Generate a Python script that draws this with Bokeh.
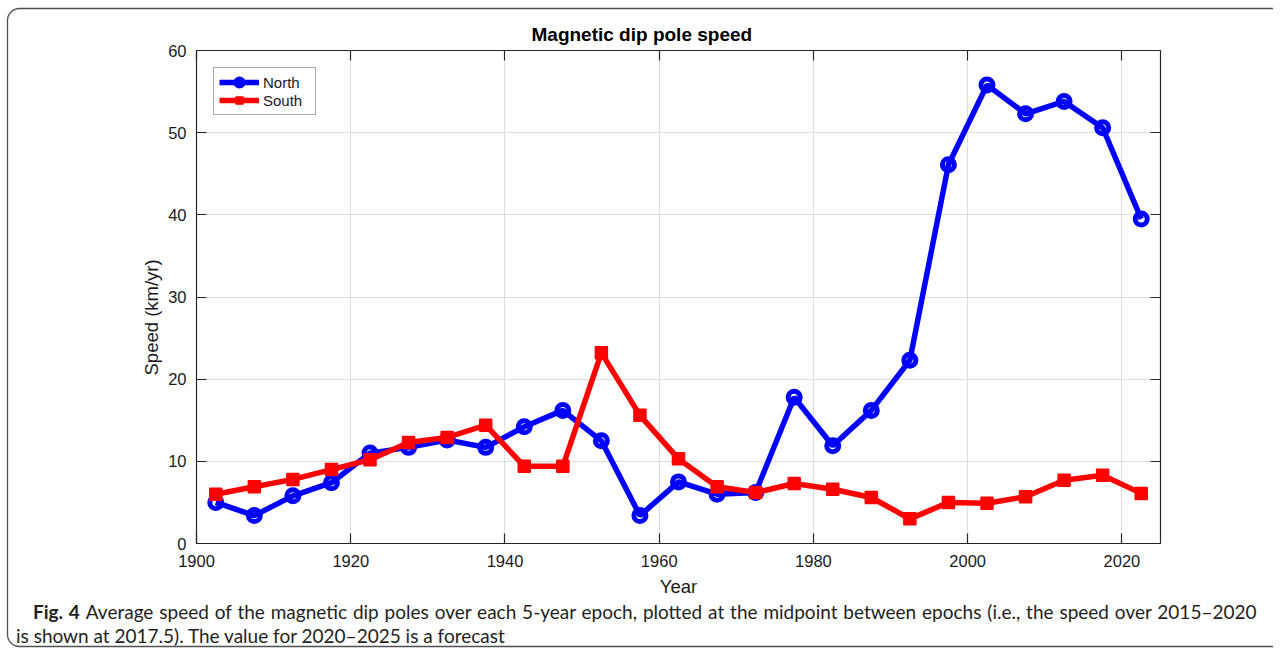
from bokeh.plotting import figure
from bokeh.layouts import column
from bokeh.models import (Range1d, LinearAxis, SingleIntervalTicker, Div,
                          Legend, LegendItem, Grid, Title)
from bokeh.embed import file_html
from bokeh.resources import INLINE

# ---------------- data ----------------
years = [1902.5, 1907.5, 1912.5, 1917.5, 1922.5, 1927.5, 1932.5, 1937.5,
         1942.5, 1947.5, 1952.5, 1957.5, 1962.5, 1967.5, 1972.5, 1977.5,
         1982.5, 1987.5, 1992.5, 1997.5, 2002.5, 2007.5, 2012.5, 2017.5,
         2022.5]
north = [5.0, 3.4, 5.8, 7.4, 11.0, 11.7, 12.6, 11.7, 14.2, 16.2, 12.5, 3.4,
         7.5, 6.0, 6.2, 17.8, 11.9, 16.2, 22.3, 46.1, 55.8, 52.3, 53.8, 50.6,
         39.5]
south = [6.0, 6.9, 7.8, 9.0, 10.2, 12.3, 12.9, 14.4, 9.4, 9.4, 23.2, 15.6,
         10.3, 6.9, 6.2, 7.3, 6.6, 5.6, 3.0, 5.0, 4.9, 5.7, 7.7, 8.3, 6.1]
series_names = ["North", "South"]

title_text = "Magnetic dip pole speed"
xlabel = "Year"
ylabel = "Speed (km/yr)"
cap_bold = "Fig. 4"
cap_line1 = ("Average speed of the magnetic dip poles over each 5-year epoch, "
             "plotted at the midpoint between epochs (i.e., the speed over 2015\u20132020")
cap_line2 = "is shown at 2017.5). The value for 2020\u20132025 is a forecast"

# ---------------- layout ----------------
W = 1273
H_MAIN, H_CAP = 600, 48
FL, FT, FR, FB = 196, 50, 1160, 543   # frame edges in px
X0, X1, Y0, Y1 = 1900, 2025, 0, 60

AX = "#262626"
FONT = "Liberation Sans"
TXT = "#1a1a1a"

p = figure(width=W, height=H_MAIN, output_backend="svg", toolbar_location=None,
           x_range=Range1d(X0, X1), y_range=Range1d(Y0, Y1),
           min_border_left=FL, min_border_right=W - FR,
           min_border_top=FT, min_border_bottom=H_MAIN - FB,
           x_axis_type=None, y_axis_type=None)
p.outline_line_color = None
p.background_fill_color = "white"
p.border_fill_color = None

def make_axis(interval, show_labels):
    ax = LinearAxis(ticker=SingleIntervalTicker(interval=interval))
    ax.axis_line_color = AX
    ax.axis_line_width = 1.2
    ax.major_tick_line_color = AX
    ax.major_tick_line_width = 1.2
    ax.major_tick_in = 10
    ax.major_tick_out = 0
    ax.minor_tick_line_color = None
    ax.major_label_text_font = FONT
    if show_labels:
        ax.major_label_text_font_size = "16.5px"
        ax.major_label_text_color = TXT
    else:
        ax.major_label_text_font_size = "1px"
        ax.major_label_text_color = None
        ax.major_label_standoff = 0
    return ax

xb = make_axis(20, True)
xb.major_label_standoff = 7
xb.axis_label = xlabel
xb.axis_label_text_font = FONT
xb.axis_label_text_font_size = "18.5px"
xb.axis_label_text_font_style = "normal"
xb.axis_label_text_color = TXT
xb.axis_label_standoff = 6
p.add_layout(xb, "below")

yl = make_axis(10, True)
yl.major_label_standoff = 6
p.add_layout(yl, "left")

p.add_layout(make_axis(20, False), "above")
p.add_layout(make_axis(10, False), "right")

p.add_layout(Grid(dimension=0, ticker=xb.ticker, grid_line_color="#dedede", grid_line_width=1))
p.add_layout(Grid(dimension=1, ticker=yl.ticker, grid_line_color="#dedede", grid_line_width=1))

# title (above) and y label (left, rotated)
p.title.text = title_text
p.title.align = "left"
p.title.offset = 335
p.title.standoff = 3
p.title.text_font = FONT
p.title.text_font_size = "19px"
p.title.text_font_style = "bold"
p.title.text_color = "#000000"

p.add_layout(Title(text=ylabel, align="left", offset=168, standoff=8,
                   text_font=FONT, text_font_size="18.5px",
                   text_font_style="normal", text_color=TXT), "left")

# series
ln = p.line(years, north, line_color="#0000ff", line_width=5.5)
mn = p.scatter(years, north, marker="circle", size=12, line_color="#0000ff",
               line_width=5, fill_color=None)
ls = p.line(years, south, line_color="#ff0000", line_width=5.5)
ms = p.scatter(years, south, marker="square", size=12, line_color="#ff0000",
               line_width=1.5, fill_color="#ff0000")

legend = Legend(items=[LegendItem(label=series_names[0], renderers=[ln, mn]),
                       LegendItem(label=series_names[1], renderers=[ls, ms])],
                location="top_left")
legend.margin = 17
legend.padding = 5
legend.spacing = 0
legend.glyph_width = 40
legend.glyph_height = 18
legend.label_height = 18
legend.label_width = 47
legend.label_standoff = 4
legend.label_text_font = FONT
legend.label_text_font_size = "15px"
legend.label_text_color = TXT
legend.border_line_color = "#555555"
legend.border_line_width = 1
legend.background_fill_color = "white"
legend.background_fill_alpha = 1
p.add_layout(legend)

# ---------------- caption ----------------
cap_html = (
    '<div style="white-space:nowrap;line-height:24px;font-family:Lato;'
    'font-size:19px;color:#231f20">'
    f'<div style="padding-left:33px;word-spacing:1px"><b>{cap_bold}</b>'
    f'<span style="margin-left:6px">{cap_line1}</span></div>'
    f'<div style="padding-left:16px">{cap_line2}</div></div>'
)
cap = Div(text=cap_html, width=W, height=H_CAP, margin=0)

frame_svg = ("<svg xmlns='http://www.w3.org/2000/svg' width='1273' height='648'>"
             "<path d='M1300 8.5 H19.5 A12 12 0 0 0 7.5 20.5 V634.5 "
             "A12 12 0 0 0 19.5 646.5 H1300' fill='none' stroke='%23505050' "
             "stroke-width='1.3'/></svg>")
layout = column(p, cap, spacing=0,
                styles={"background-image": f"url(\"data:image/svg+xml;utf8,{frame_svg}\")",
                        "background-repeat": "no-repeat"})

open("out.html", "w").write(file_html(layout, INLINE))
